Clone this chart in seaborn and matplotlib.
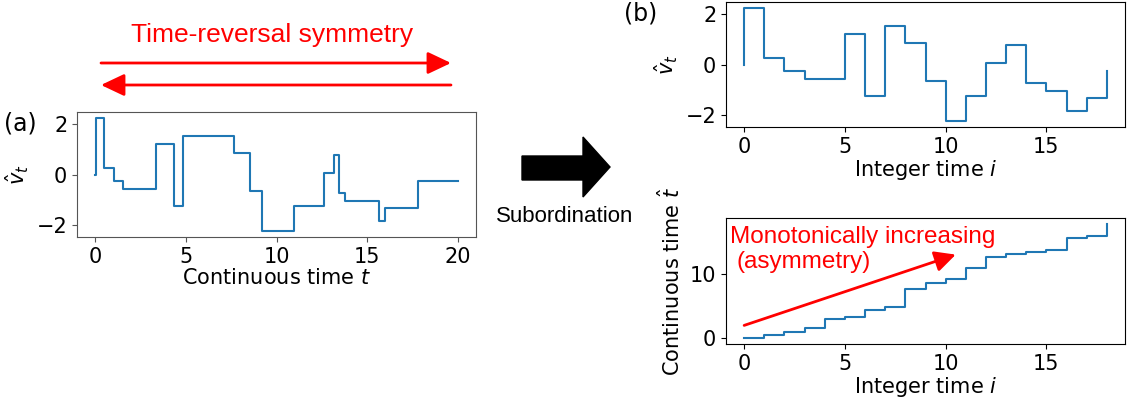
import numpy as np
import pandas as pd
import matplotlib
matplotlib.use("Agg")
import matplotlib.pyplot as plt
from matplotlib.patches import Polygon
import seaborn as sns

# continuous jump times t_hat_i and the value v_hat_i taken from that time on
t_hat = [0.05, 0.47, 1.04, 1.55, 2.95, 3.37, 4.35, 4.87, 7.67, 8.55,
         9.22, 10.98, 12.64, 13.16, 13.42, 13.78, 15.65, 15.96, 17.8]
v_hat = [2.25, 0.25, -0.25, -0.57, -0.58, 1.23, -1.25, 1.53, 0.85, -0.65,
         -2.23, -1.25, 0.05, 0.79, -0.72, -1.04, -1.84, -1.32, -0.23]
t_end = 20
i_idx = list(range(len(t_hat)))

W, H = 1127, 404
fig = plt.figure(figsize=(W / 100, H / 100), dpi=100)


def box(x0, y0, x1, y1):
    # pixel box (from top-left) -> figure fraction
    return [x0 / W, (H - y1) / H, (x1 - x0) / W, (y1 - y0) / H]


def fp(x, y):
    return (x / W, (H - y) / H)


blue = '#1f77b4'
tick_fs = 15

# (a) continuous time
ax_a = fig.add_axes(box(77, 112, 476, 237))
df_a = pd.DataFrame({'t': [0] + t_hat + [t_end], 'v': [0] + v_hat + [v_hat[-1]]})
sns.lineplot(data=df_a, x='t', y='v', ax=ax_a, estimator=None, sort=False,
             drawstyle='steps-post', color=blue, lw=1.5)
ax_a.set_xticks([0, 5, 10, 15, 20])
ax_a.set_yticks([-2, 0, 2])
ax_a.set_xlabel('Continuous time $t$', fontsize=tick_fs, labelpad=1)
ax_a.set_ylabel(r'$\hat{v}_t$', fontsize=tick_fs)
for s in ax_a.spines.values():
    s.set_color('#555555')
ax_a.tick_params(labelsize=tick_fs, color='#555555')

# (b) top: v at integer time
ax_b1 = fig.add_axes(box(726, 2, 1125, 127))
df_b1 = pd.DataFrame({'i': [0] + i_idx, 'v': [0] + v_hat})
sns.lineplot(data=df_b1, x='i', y='v', ax=ax_b1, estimator=None, sort=False,
             drawstyle='steps-post', color=blue, lw=1.5)
ax_b1.set_xticks([0, 5, 10, 15])
ax_b1.set_yticks([-2, 0, 2])
ax_b1.set_xlabel('Integer time $i$', fontsize=tick_fs, labelpad=1)
ax_b1.set_ylabel(r'$\hat{v}_t$', fontsize=tick_fs)
ax_b1.tick_params(labelsize=tick_fs)

# (b) bottom: continuous time vs integer time
ax_b2 = fig.add_axes(box(726, 218, 1125, 344))
df_b2 = pd.DataFrame({'i': i_idx, 't': t_hat})
df_b2.loc[0, 't'] = 0.0
sns.lineplot(data=df_b2, x='i', y='t', ax=ax_b2, estimator=None, sort=False,
             drawstyle='steps-post', color=blue, lw=1.5)
ax_b2.set_xticks([0, 5, 10, 15])
ax_b2.set_yticks([0, 10])
ax_b2.set_xlabel('Integer time $i$', fontsize=tick_fs, labelpad=1)
ax_b2.set_ylabel(r'Continuous time $\hat{t}$', fontsize=tick_fs)
ax_b2.tick_params(labelsize=tick_fs)
ax_b2.annotate('', xy=(10.5, 13), xytext=(0, 2),
               arrowprops=dict(arrowstyle='-|>,head_length=0.9,head_width=0.45',
                               mutation_scale=14, color='red', lw=2,
                               shrinkA=0, shrinkB=0))

arial = ['Liberation Sans', 'DejaVu Sans']
fig.text(*fp(730, 237), 'Monotonically increasing', color='red', fontsize=17.5,
         family=arial, ha='left', va='center')
fig.text(*fp(737, 262), '(asymmetry)', color='red', fontsize=17.5,
         family=arial, ha='left', va='center')

# time-reversal arrows
fig.text(*fp(272, 35), 'Time-reversal symmetry', color='red', fontsize=19,
         family=arial, ha='center', va='center')
for (x0, x1, y) in [(101, 451, 63), (451, 101, 85)]:
    fig.add_artist(matplotlib.patches.FancyArrowPatch(
        fp(x0, y), fp(x1, y), transform=fig.transFigure,
        arrowstyle='-|>,head_length=0.95,head_width=0.45', mutation_scale=15,
        color='red', lw=2, shrinkA=0, shrinkB=0))

# big black subordination arrow
verts = [fp(522, 156), fp(583, 156), fp(583, 137), fp(610, 167),
         fp(583, 197), fp(583, 180), fp(522, 180)]
fig.add_artist(Polygon(verts, closed=True, transform=fig.transFigure,
                       facecolor='black', edgecolor='black'))
fig.text(*fp(565, 216), 'Subordination', color='black', fontsize=16,
         family=arial, ha='center', va='center')

fig.text(*fp(4, 124), '(a)', fontsize=17, ha='left', va='center')
fig.text(*fp(624, 14), '(b)', fontsize=17, ha='left', va='center')

fig.savefig('out.png', dpi=100)
